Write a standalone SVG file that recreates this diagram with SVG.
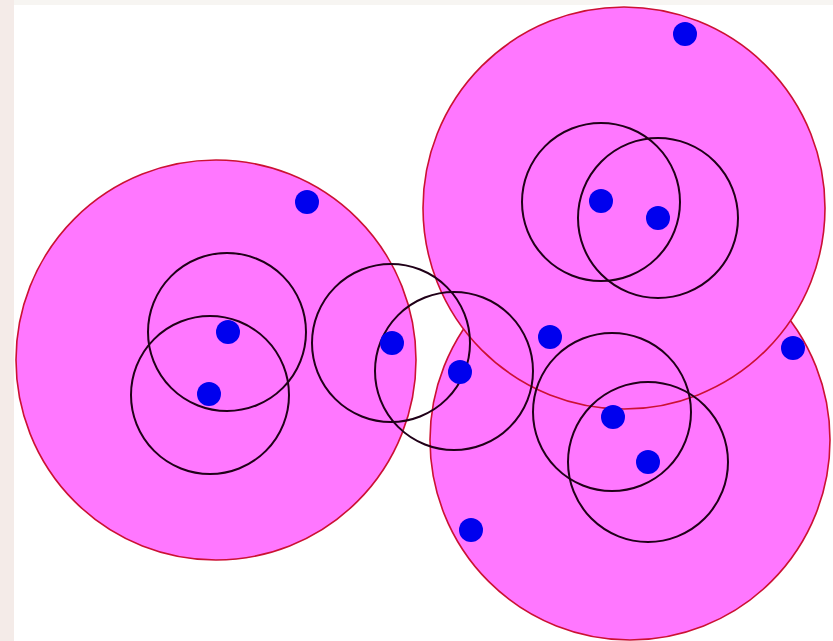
<svg xmlns="http://www.w3.org/2000/svg" width="833" height="641" viewBox="0 0 833 641">
<style>
.big{fill:#ff77ff;stroke:#cc1133;stroke-width:1.6}
.ring{fill:none;stroke:#200018;stroke-width:2}
.dot{fill:#0000ee}
</style>
<rect width="833" height="641" fill="#ffffff"/>
<rect x="0" y="0" width="14" height="641" fill="#f4ebe8"/>
<rect x="14" y="0" width="819" height="5" fill="#f7f5f2"/>
<g id="regions">
<circle id="region-left" class="big" cx="216" cy="360" r="200"/>
<circle id="region-bottom-right" class="big" cx="630" cy="440" r="200"/>
<circle id="region-top-right" class="big" cx="624" cy="208" r="201"/>
</g>
<g id="rings">
<circle id="ring-1" class="ring" cx="227" cy="332" r="79"/>
<circle id="ring-2" class="ring" cx="210" cy="395" r="79"/>
<circle id="ring-3" class="ring" cx="391" cy="343" r="79"/>
<circle id="ring-4" class="ring" cx="454" cy="371" r="79"/>
<circle id="ring-5" class="ring" cx="601" cy="202" r="79"/>
<circle id="ring-6" class="ring" cx="658" cy="218" r="80"/>
<circle id="ring-7" class="ring" cx="612" cy="412" r="79"/>
<circle id="ring-8" class="ring" cx="648" cy="462" r="80"/>
</g>
<g id="points">
<circle class="dot" cx="307" cy="202" r="12"/>
<circle class="dot" cx="228" cy="332" r="12"/>
<circle class="dot" cx="209" cy="394" r="12"/>
<circle class="dot" cx="392" cy="343" r="12"/>
<circle class="dot" cx="460" cy="372" r="12"/>
<circle class="dot" cx="550" cy="337" r="12"/>
<circle class="dot" cx="685" cy="34" r="12"/>
<circle class="dot" cx="601" cy="201" r="12"/>
<circle class="dot" cx="658" cy="218" r="12"/>
<circle class="dot" cx="793" cy="348" r="12"/>
<circle class="dot" cx="613" cy="417" r="12"/>
<circle class="dot" cx="648" cy="462" r="12"/>
<circle class="dot" cx="471" cy="530" r="12"/>
</g>
</svg>
